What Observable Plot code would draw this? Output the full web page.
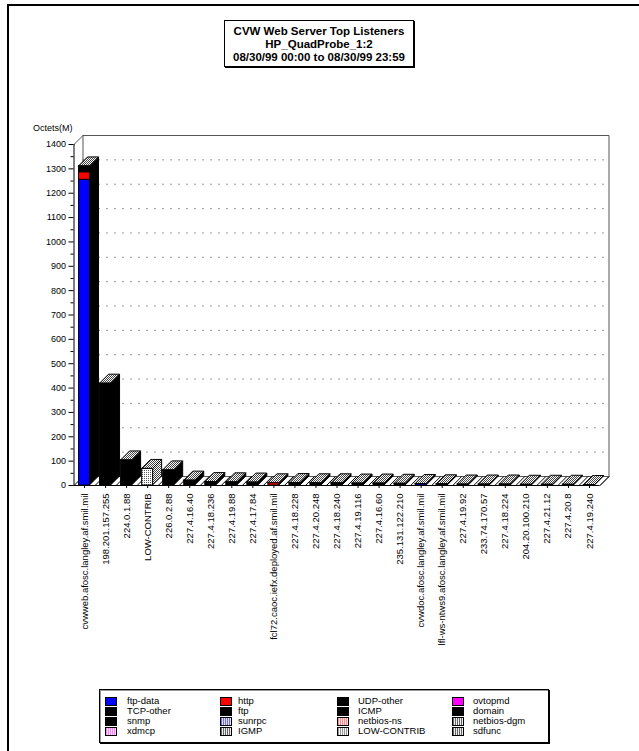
<!DOCTYPE html>
<html><head><meta charset="utf-8">
<script src="https://cdn.jsdelivr.net/npm/d3@7"></script>
<script src="https://cdn.jsdelivr.net/npm/@observablehq/plot@0.6"></script>
<style>
body{margin:0;background:#fff;font-family:"Liberation Sans",Arial,sans-serif;}
#page{position:relative;width:639px;height:751px;overflow:hidden;background:#fff;}
#frame{position:absolute;left:7px;top:4px;width:700px;height:800px;border-left:2px solid #000;border-top:2px solid #000;}
#chart{position:absolute;left:0;top:0;}
#title{position:absolute;left:224px;top:20px;width:190px;height:47px;border:1px solid #000;box-shadow:1px 1px 0 #000;text-align:center;font-weight:bold;font-size:11.5px;line-height:13px;padding-top:4px;box-sizing:border-box;color:#000;}
#ylabel{position:absolute;left:33px;top:123px;font-size:9px;line-height:10px;color:#000;}
#legend{position:absolute;left:99px;top:689px;width:450px;height:54px;border:1px solid #000;box-shadow:1px 1px 0 #000, inset 1px 1px 0 #999;box-sizing:border-box;background:#fff;}
.sw{position:absolute;width:10px;height:7px;border:1px solid #000;}
.lt{position:absolute;font-size:9.5px;line-height:10px;white-space:nowrap;color:#000;}
</style>
</head><body>
<svg width="0" height="0" style="position:absolute">
<defs>
<pattern id="stip" width="2" height="2" patternUnits="userSpaceOnUse">
<rect width="2" height="2" fill="#fff"/><rect width="1" height="1" fill="#444"/><rect x="1" y="1" width="1" height="1" fill="#444"/>
</pattern>
<pattern id="low" width="2" height="2" patternUnits="userSpaceOnUse">
<rect width="2" height="2" fill="#fff"/><rect width="1" height="1" fill="#555"/>
</pattern>
</defs>
</svg>
<div id="page">
<div id="frame"></div>
<div id="chart"></div>
<div id="title">CVW Web Server Top Listeners<br>HP_QuadProbe_1:2<br>08/30/99 00:00 to 08/30/99 23:59</div>
<div id="ylabel">Octets(M)</div>
<div id="legend"></div>
</div>
<script>
// ---------- data ----------
const categories = [
  "cvwweb.afosc.langley.af.smil.mil","198.201.157.255","224.0.1.88","LOW-CONTRIB","226.0.2.88",
  "227.4.16.40","227.4.18.236","227.4.19.88","227.4.17.84","fcl72.caoc.iefx.deployed.af.smil.mil",
  "227.4.18.228","227.4.20.248","227.4.18.240","227.4.19.116","227.4.16.60",
  "235.131.122.210","cvwdoc.afosc.langley.af.smil.mil","lfl-ws-ntws9.afosc.langley.af.smil.mil","227.4.19.92","233.74.170.57",
  "227.4.18.224","204.20.100.210","227.4.21.12","227.4.20.8","227.4.19.240"
];
const seriesNames = ["ftp-data","http","TCP-other","UDP-other","LOW-CONTRIB"];
const ftpData    = [1255,0,0,0,0, 0,0,0,0,0, 0,0,0,0,0, 0,6,0,0,0, 0,0,0,0,0];
const httpVals   = [31,0,0,0,0, 0,0,0,0,9, 0,0,0,0,0, 0,0,3,0,0, 0,3,0,0,0];
const tcpOther   = [24,0,0,0,0, 0,0,0,0,0, 0,0,0,0,0, 0,0,2,0,0, 0,0,0,0,0];
const udpOther   = [0,418,103,0,62, 20,14,13,12,0, 10,9,9,8,8, 7,0,0,4,4, 4,0,3,3,2];
const lowContrib = [0,0,0,68,0, 0,0,0,0,0, 0,0,0,0,0, 0,0,0,0,0, 0,0,0,0,0];
const seriesValues = [ftpData, httpVals, tcpOther, udpOther, lowContrib];
const yTicks = [0,100,200,300,400,500,600,700,800,900,1000,1100,1200,1300,1400];
const legendNames = ["ftp-data","http","UDP-other","ovtopmd",
                     "TCP-other","ftp","ICMP","domain",
                     "snmp","sunrpc","netbios-ns","netbios-dgm",
                     "xdmcp","IGMP","LOW-CONTRIB","sdfunc"];

// ---------- styles ----------
const frontFill = {"ftp-data":"#0000ff","http":"#ff0000","TCP-other":"#000","UDP-other":"#000","LOW-CONTRIB":"url(#low)"};
const sideFill  = {"ftp-data":"#000","http":"#000","TCP-other":"#000","UDP-other":"#000","LOW-CONTRIB":"url(#stip)"};
const stripe = (a,b)=>`repeating-linear-gradient(90deg, ${a} 0 1px, ${b} 1px 2px)`;
const legendStyle = {
  "ftp-data":"#0000ff","http":"#ff0000","UDP-other":"#000","ovtopmd":"#ff00ff",
  "TCP-other":"#000","ftp":"#000","ICMP":"#000","domain":"#000",
  "snmp":"#000","sunrpc":stripe("#6a6aff","#e0e0ff"),"netbios-ns":stripe("#ff8c8c","#ffe4e4"),"netbios-dgm":stripe("#666","#eee"),
  "xdmcp":stripe("#ff80ff","#ffe0ff"),"IGMP":stripe("#666","#eee"),"LOW-CONTRIB":stripe("#999","#f4f4f4"),"sdfunc":stripe("#666","#eee")
};

// ---------- geometry ----------
const W=639, H=640, ML=73.5, MR=39.5, MT=144, MB=155, YMAX=1400;
const n = categories.length;
const pxX = (W-ML-MR)/n, pxY = (H-MT-MB)/YMAX;
const DX = 9/pxX, DY = 9/pxY, HALF = 5.5/pxX;

const segments = [], sidePts = [], topPts = [];
categories.forEach((c,i)=>{
  let y0 = 0;
  seriesNames.forEach((s,k)=>{
    const v = seriesValues[k][i];
    if (v > 0) {
      segments.push({i, s, y1:y0, y2:y0+v});
      const key = i+"-"+s;
      sidePts.push({key, x:i+HALF, ya:y0, yb:y0+v, f:sideFill[s]});
      sidePts.push({key, x:i+HALF+DX, ya:y0+DY, yb:y0+v+DY, f:sideFill[s]});
      y0 += v;
    }
  });
  const t = y0, xl = i-HALF, xr = i+HALF;
  topPts.push({key:i, x:xl, ya:t, yb:t});
  topPts.push({key:i, x:xl+DX, ya:t, yb:t+DY});
  topPts.push({key:i, x:xr, ya:t, yb:t+DY});
  topPts.push({key:i, x:xr+DX, ya:t+DY, yb:t+DY});
});

const x0 = -0.5, x1 = n-0.5;
const wallPts = [
  {z:"a", x:x0, y:YMAX},{z:"a", x:x0+DX, y:YMAX+DY},{z:"a", x:x1+DX, y:YMAX+DY},{z:"a", x:x1+DX, y:DY},{z:"a", x:x1, y:0},
  {z:"b", x:x0+DX, y:YMAX+DY},{z:"b", x:x0+DX, y:DY},{z:"b", x:x1+DX, y:DY}
];
const boundaries = d3.range(n+1).map(k=>k-0.5);
const gridVals = yTicks.filter(v=>v>0 && v<YMAX);
const minorTicks = yTicks.slice(0,-1).map(v=>v+50);

const chart = Plot.plot({
  width:W, height:H, marginLeft:ML, marginRight:MR, marginTop:MT, marginBottom:MB,
  x:{domain:[x0,x1]},
  y:{domain:[0,YMAX], label:null},
  color:{type:"identity"},
  style:{fontFamily:"'Liberation Sans', Arial, sans-serif", fontSize:"9px", background:"transparent", overflow:"visible", color:"#000"},
  marks:[
    Plot.line(wallPts, {x:"x", y:"y", z:"z", stroke:"#555", strokeWidth:1}),
    Plot.ruleY(gridVals, {y:d=>d+DY, x1:x0+DX, x2:x1+DX, stroke:"#333", strokeDasharray:"1,7"}),
    Plot.link(boundaries, {x1:d=>d, y1:0, x2:d=>d+DX, y2:DY, stroke:"#000", strokeWidth:1}),
    Plot.areaY(sidePts, {x:"x", y1:"ya", y2:"yb", z:"key", fill:"f", stroke:"#000", strokeWidth:1, curve:"linear"}),
    Plot.areaY(topPts, {x:"x", y1:"ya", y2:"yb", z:"key", fill:"url(#stip)", stroke:"#000", strokeWidth:1, curve:"linear"}),
    Plot.rect(segments, {x1:d=>d.i-HALF, x2:d=>d.i+HALF, y1:"y1", y2:"y2", fill:d=>frontFill[d.s], stroke:"#000", strokeWidth:1}),
    Plot.ruleY([0], {x1:x0, x2:x1, stroke:"#000"}),
    Plot.ruleX([x0], {y1:0, y2:YMAX, stroke:"#000"}),
    Plot.axisY({ticks:yTicks, tickSize:5, tickPadding:3, tickFormat:d=>String(d), label:null}),
    Plot.axisY({ticks:minorTicks, tickSize:3, tickFormat:()=>"", label:null}),
    Plot.axisX({ticks:d3.range(n), tickSize:3, tickFormat:()=>"", label:null}),
    Plot.text(categories, {x:(d,i)=>i, y:()=>0, text:d=>d, rotate:-90, textAnchor:"end", dy:8, fontSize:9.5, fill:"#000"})
  ]
});
document.getElementById("chart").appendChild(chart);

// ---------- legend ----------
const legend = document.getElementById("legend");
const colSw = [5, 120, 237, 352], colTx = [27, 138, 258, 373], rowTop = [6, 16, 26, 36];
legendNames.forEach((name, j)=>{
  const r = Math.floor(j/4), c = j%4;
  const sw = document.createElement("div");
  sw.className = "sw";
  sw.style.left = colSw[c]+"px"; sw.style.top = (rowTop[r]+1)+"px";
  sw.style.background = legendStyle[name];
  legend.appendChild(sw);
  const t = document.createElement("div");
  t.className = "lt";
  t.style.left = colTx[c]+"px"; t.style.top = rowTop[r]+"px";
  t.textContent = name;
  legend.appendChild(t);
});
</script>
</body></html>
